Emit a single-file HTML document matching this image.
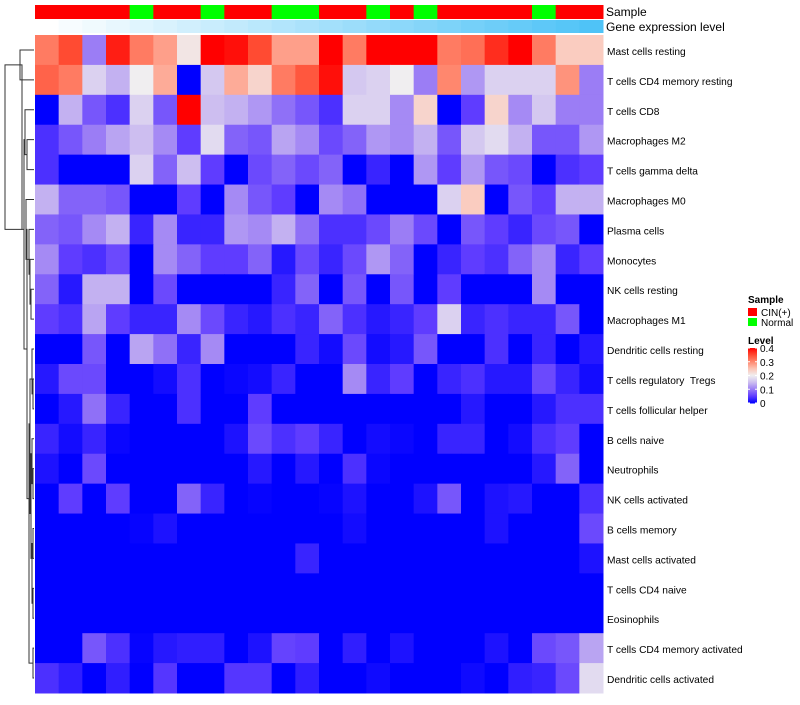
<!DOCTYPE html>
<html><head><meta charset="utf-8">
<style>
body{margin:0;background:#fff;width:800px;height:700px;overflow:hidden;font-family:"Liberation Sans",sans-serif;}
svg text{font-family:"Liberation Sans",sans-serif;}
#rowlabels text{white-space:pre;}
</style></head>
<body>
<svg id="chart" width="800" height="700" xmlns="http://www.w3.org/2000/svg">
<g id="dendro" fill="none" stroke="#333" stroke-width="1"></g>
<g id="annot"></g>
<g id="cells"></g>
<g id="rowlabels" font-size="10.2" fill="#000"></g>
<text x="606" y="16" font-size="12">Sample</text>
<text x="606" y="31" font-size="12">Gene expression level</text>
<g font-size="10">
<text x="748" y="303" font-weight="bold">Sample</text>
<rect x="748" y="308" width="9" height="8" fill="#FF0000"/>
<text x="761" y="316">CIN(+)</text>
<rect x="748" y="318" width="9" height="8" fill="#00FF00"/>
<text x="761" y="326">Normal</text>
<text x="748" y="344" font-weight="bold">Level</text>
<g id="cbar"></g>
</g>
</svg>
<script>
const rowNames=["Mast cells resting","T cells CD4 memory resting","T cells CD8","Macrophages M2","T cells gamma delta","Macrophages M0","Plasma cells","Monocytes","NK cells resting","Macrophages M1","Dendritic cells resting","T cells regulatory  Tregs","T cells follicular helper","B cells naive","Neutrophils","NK cells activated","B cells memory","Mast cells activated","T cells CD4 naive","Eosinophils","T cells CD4 memory activated","Dendritic cells activated"];
const sampleGroups=["C","C","C","C","N","C","C","N","C","C","N","N","C","C","N","C","N","C","C","C","C","N","C","C"];
const geneLevel=[0,1,2,3,4,5,6,7,8,9,10,11,12,13,14,15,16,17,18,19,20,21,22,23];
const r0=[0.31,0.35,0.10,0.38,0.31,0.28,0.21,0.4,0.39,0.35,0.28,0.28,0.4,0.31,0.4,0.4,0.4,0.31,0.32,0.37,0.4,0.31,0.24,0.24];
const r1=[0.33,0.31,0.17,0.14,0.2,0.27,0,0.16,0.27,0.23,0.31,0.34,0.39,0.16,0.17,0.2,0.1,0.3,0.12,0.17,0.17,0.17,0.29,0.1];
const r2=[0,0.14,0.07,0.04,0.17,0.07,0.4,0.15,0.14,0.12,0.09,0.07,0.04,0.17,0.17,0.11,0.23,0,0.05,0.23,0.11,0.16,0.10,0.10];
const r3=[0.04,0.07,0.10,0.13,0.15,0.11,0.05,0.18,0.08,0.07,0.13,0.11,0.06,0.08,0.12,0.11,0.14,0.07,0.16,0.18,0.14,0.07,0.07,0.12];
const r4=[0.04,0,0,0,0.17,0.08,0.15,0.05,0,0.06,0.08,0.06,0.08,0,0.03,0,0.12,0.05,0.12,0.07,0.06,0,0.04,0.05];
const r5=[0.14,0.08,0.08,0.07,0,0,0.05,0,0.11,0.07,0.05,0,0.11,0.09,0,0,0,0.17,0.24,0,0.07,0.05,0.14,0.14];
const r6=[0.08,0.07,0.11,0.14,0.03,0.11,0.03,0.03,0.12,0.11,0.14,0.09,0.04,0.04,0.06,0.1,0.06,0,0.07,0.05,0.03,0.06,0.07,0];
const r7=[0.11,0.05,0.04,0.06,0,0.11,0.08,0.05,0.05,0.08,0.02,0.06,0.03,0.06,0.12,0.08,0,0.03,0.05,0.04,0.08,0.11,0.03,0.05];
const r8=[0.08,0.02,0.14,0.14,0,0.06,0,0,0,0,0.03,0.08,0,0.07,0,0.07,0,0.05,0,0,0,0.11,0,0];
const r9=[0.05,0.04,0.13,0.05,0.03,0.03,0.11,0.06,0.03,0.02,0.04,0.03,0.08,0.04,0.02,0.03,0.05,0.17,0.03,0.04,0.03,0.03,0.07,0];
const r10=[0,0,0.07,0,0.13,0.09,0.03,0.11,0,0,0,0.03,0.01,0.06,0.01,0.02,0.07,0,0,0.04,0,0.03,0,0.02];
const r11=[0.02,0.06,0.06,0,0,0.01,0.04,0,0.005,0.01,0.03,0,0,0.11,0.03,0.05,0,0.03,0.04,0.02,0.02,0.06,0.03,0.01];
const r12=[0,0.02,0.09,0.03,0,0,0.04,0,0,0.05,0,0,0,0,0,0,0,0,0.02,0,0,0.02,0.04,0.04];
const r13=[0.03,0.01,0.03,0.005,0,0,0,0,0.015,0.06,0.04,0.05,0.03,0,0.01,0.005,0,0.03,0.03,0,0.01,0.04,0.05,0];
const r14=[0.015,0,0.06,0,0,0,0,0,0,0.02,0,0.02,0,0.04,0.005,0,0,0,0,0,0,0.02,0.08,0];
const r15=[0,0.05,0,0.05,0,0,0.08,0.03,0,0.003,0,0,0.003,0.015,0,0,0.015,0.07,0,0.015,0.02,0,0,0.04];
const r16=[0,0,0,0,0.003,0.015,0,0,0,0,0,0,0,0.01,0,0,0,0,0,0.015,0,0,0,0.06];
const r17=[0,0,0,0,0,0,0,0,0,0,0,0.03,0,0,0,0,0,0,0,0,0,0,0,0.015];
const r18=[0,0,0,0,0,0,0,0,0,0,0,0,0,0,0,0,0,0,0,0,0,0,0,0];
const r19=[0,0,0,0,0,0,0,0,0,0,0,0,0,0,0,0,0,0,0,0,0,0,0,0];
const r20=[0,0,0.07,0.04,0.003,0.02,0.025,0.025,0,0.015,0.055,0.05,0,0.025,0,0.015,0,0,0,0.015,0,0.06,0.07,0.13];
const r21=[0.04,0.025,0,0.025,0,0.045,0,0,0.045,0.045,0,0.025,0,0,0.008,0,0,0,0.008,0,0.025,0.03,0.06,0.18];
const values=[r0,r1,r2,r3,r4,r5,r6,r7,r8,r9,r10,r11,r12,r13,r14,r15,r16,r17,r18,r19,r20,r21];
const cbarTicks=[0,0.1,0.2,0.3,0.4];

const NS="http://www.w3.org/2000/svg";
const X0=35,X1=603,Y0=35,Y1=693;
const nC=sampleGroups.length,nR=rowNames.length;
const cw=(X1-X0)/nC,rh=(Y1-Y0)/nR;
const xPos=c=>X0+c*cw, yPos=r=>Y0+r*rh;
const stops=[[0,0,0,255],[0.05,95,60,255],[0.1,155,125,245],[0.15,205,190,240],[0.2,240,238,240],[0.25,252,195,180],[0.3,255,135,110],[0.35,255,75,50],[0.4,255,0,0]];
function col(v){v=Math.max(0,Math.min(0.4,v));for(let i=1;i<stops.length;i++){if(v<=stops[i][0]){const a=stops[i-1],b=stops[i],t=(v-a[0])/(b[0]-a[0]);return `rgb(${[1,2,3].map(k=>Math.round(a[k]+(b[k]-a[k])*t)).join(',')})`;}}return 'rgb(255,0,0)';}
function mk(tag,attrs,parent){const e=document.createElementNS(NS,tag);for(const k in attrs)e.setAttribute(k,attrs[k]);parent.appendChild(e);return e;}
const cells=document.getElementById('cells');
values.forEach((row,r)=>row.forEach((v,c)=>{
 const e=mk('rect',{x:xPos(c),y:yPos(r),width:cw+0.5,height:rh+0.5,fill:col(v)},cells);
 
 
}));
const annot=document.getElementById('annot');
const gMax=Math.max(...geneLevel);
sampleGroups.forEach((g,c)=>{
 const e=mk('rect',{x:xPos(c),y:5,width:cw+0.5,height:14,fill:g==="C"?"#FF0000":"#00FF00"},annot);
 
 
 const t=geneLevel[c]/gMax;
 const f=`rgb(${Math.round(255+(79-255)*t)},${Math.round(255+(195-255)*t)},${Math.round(255+(247-255)*t)})`;
 const e2=mk('rect',{x:xPos(c),y:20,width:cw+0.5,height:13,fill:f},annot);
 
 
});
const rl=document.getElementById('rowlabels');
rowNames.forEach((n,r)=>{
 const t=mk('text',{x:607,y:yPos(r)+rh/2+5},rl);t.textContent=n;
 t.setAttribute('xml:space','preserve');
 
 
});
const cb=document.getElementById('cbar');
const CB0=403,CB1=348;
for(let i=0;i<55;i++){const v=0.4*i/55;mk('rect',{x:748,y:CB0-(i+1)*(CB0-CB1)/55,width:9,height:(CB0-CB1)/55+0.5,fill:col(v)},cb);}
cbarTicks.forEach(v=>{
 const y=CB0-(CB0-CB1)*v/0.4;
 mk('line',{x1:748,x2:750,y1:y,y2:y,stroke:'#fff'},cb);mk('line',{x1:755,x2:757,y1:y,y2:y,stroke:'#fff'},cb);
 const t=mk('text',{x:760,y:y+4,'font-size':10},cb);t.textContent=String(v);
 
 
});
const cy=r=>yPos(r)+rh/2;
const d=document.getElementById('dendro');
function link(x,ya,yb,xa,xb){mk('path',{d:`M${xa},${ya}H${x}V${yb}H${xb}`},d);}
link(20,cy(0),cy(1),34,34);
link(27,cy(3),cy(4),34,34);
link(25,cy(2),(cy(3)+cy(4))/2,34,27);
link(31,cy(8),cy(9),34,34);
link(30,cy(7),(cy(8)+cy(9))/2,34,31);
link(29,cy(6),(cy(7)+cy(8))/2,34,30);
link(26,cy(5),cy(7),34,29);
link(33,cy(11),cy(12),34,34);
link(32,cy(10),(cy(11)+cy(12))/2,34,33);
link(33,cy(14),cy(15),34,34);
link(32,cy(13),(cy(14)+cy(15))/2,34,33);
link(33,cy(16),cy(17),34,34);
link(33,cy(18),cy(19),34,34);
link(32,(cy(16)+cy(17))/2,(cy(18)+cy(19))/2,33,33);
link(31,(cy(13)+cy(14))/2,(cy(16)+cy(18))/2,32,32);
link(30,cy(11),(cy(14)+cy(17))/2,32,31);
link(33,cy(20),cy(21),34,34);
link(29,(cy(11)+cy(14))/2,(cy(20)+cy(21))/2,30,33);
link(27,cy(6),cy(15),26,29);
link(24,cy(3),cy(10),25,27);
link(22,(cy(0)+cy(1))/2,cy(6),20,24);
link(5,(cy(0)+cy(1))/2,cy(6),20,22);
</script>
</body></html>
